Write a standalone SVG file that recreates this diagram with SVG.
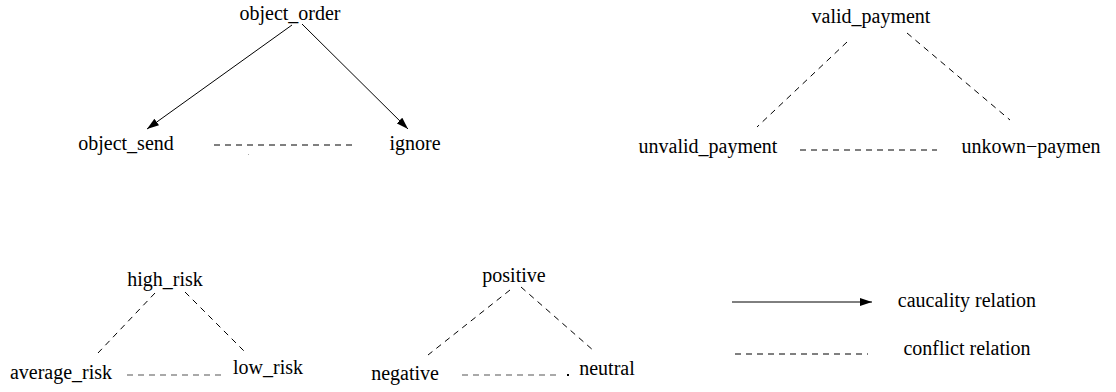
<svg xmlns="http://www.w3.org/2000/svg" width="1116" height="392" viewBox="0 0 1116 392">
<style>
text{font-family:"Liberation Serif","Times New Roman",serif;font-size:20px;fill:#000;text-anchor:middle}
.c{stroke:#000;stroke-width:1;fill:none}
.d{stroke:#000;stroke-width:1;fill:none;stroke-dasharray:6 5}
.g{stroke:#555;stroke-width:1.2;fill:none;stroke-dasharray:6 5}
</style>
<defs>
<marker id="ah" viewBox="0 0 12 8" refX="12" refY="4" markerWidth="12" markerHeight="8" markerUnits="userSpaceOnUse" orient="auto">
<path d="M0,0 L12,4 L0,8 z" fill="#000"/>
</marker>
</defs>
<rect width="1116" height="392" fill="#fff"/>
<g id="connectors">
<line class="c" x1="292" y1="25" x2="147" y2="129" marker-end="url(#ah)"/>
<line class="c" x1="302" y1="24" x2="408" y2="129" marker-end="url(#ah)"/>
<line class="d" x1="214" y1="145" x2="352" y2="145"/>
<rect x="248" y="154" width="1" height="1" fill="#aaa"/>
<line class="d" x1="847" y1="42" x2="757" y2="127"/>
<line class="d" x1="907" y1="33" x2="1010" y2="120"/>
<line class="d" x1="800" y1="150" x2="937" y2="150"/>
<line class="d" x1="155" y1="293" x2="98" y2="353"/>
<line class="d" x1="185" y1="292" x2="245" y2="352"/>
<line class="g" x1="127" y1="375" x2="224" y2="375"/>
<line class="d" x1="510" y1="290" x2="428" y2="355"/>
<line class="d" x1="521" y1="287" x2="594" y2="351"/>
<line class="g" x1="462" y1="375" x2="561" y2="375"/>
<rect x="567" y="374" width="2" height="2" fill="#000"/>
<line class="c" x1="732" y1="302" x2="872" y2="302" marker-end="url(#ah)"/>
<line class="d" x1="735" y1="354" x2="868" y2="354"/>
</g>
<g id="object_order"><text x="290" y="20">object_order</text></g>
<g id="object_send"><text x="126" y="150">object_send</text></g>
<g id="ignore"><text x="415" y="150">ignore</text></g>
<g id="valid_payment"><text x="871" y="23">valid_payment</text></g>
<g id="unvalid_payment"><text x="708" y="153">unvalid_payment</text></g>
<g id="unkown_paymen"><text x="1031" y="153">unkown−paymen</text></g>
<g id="high_risk"><text x="165" y="286">high_risk</text></g>
<g id="average_risk"><text x="61" y="379">average_risk</text></g>
<g id="low_risk"><text x="268" y="374">low_risk</text></g>
<g id="positive"><text x="514" y="282">positive</text></g>
<g id="negative"><text x="405" y="380">negative</text></g>
<g id="neutral"><text x="607" y="375">neutral</text></g>
<g id="legend_causality"><text x="967" y="307">caucality relation</text></g>
<g id="legend_conflict"><text x="967" y="355">conflict relation</text></g>
</svg>
